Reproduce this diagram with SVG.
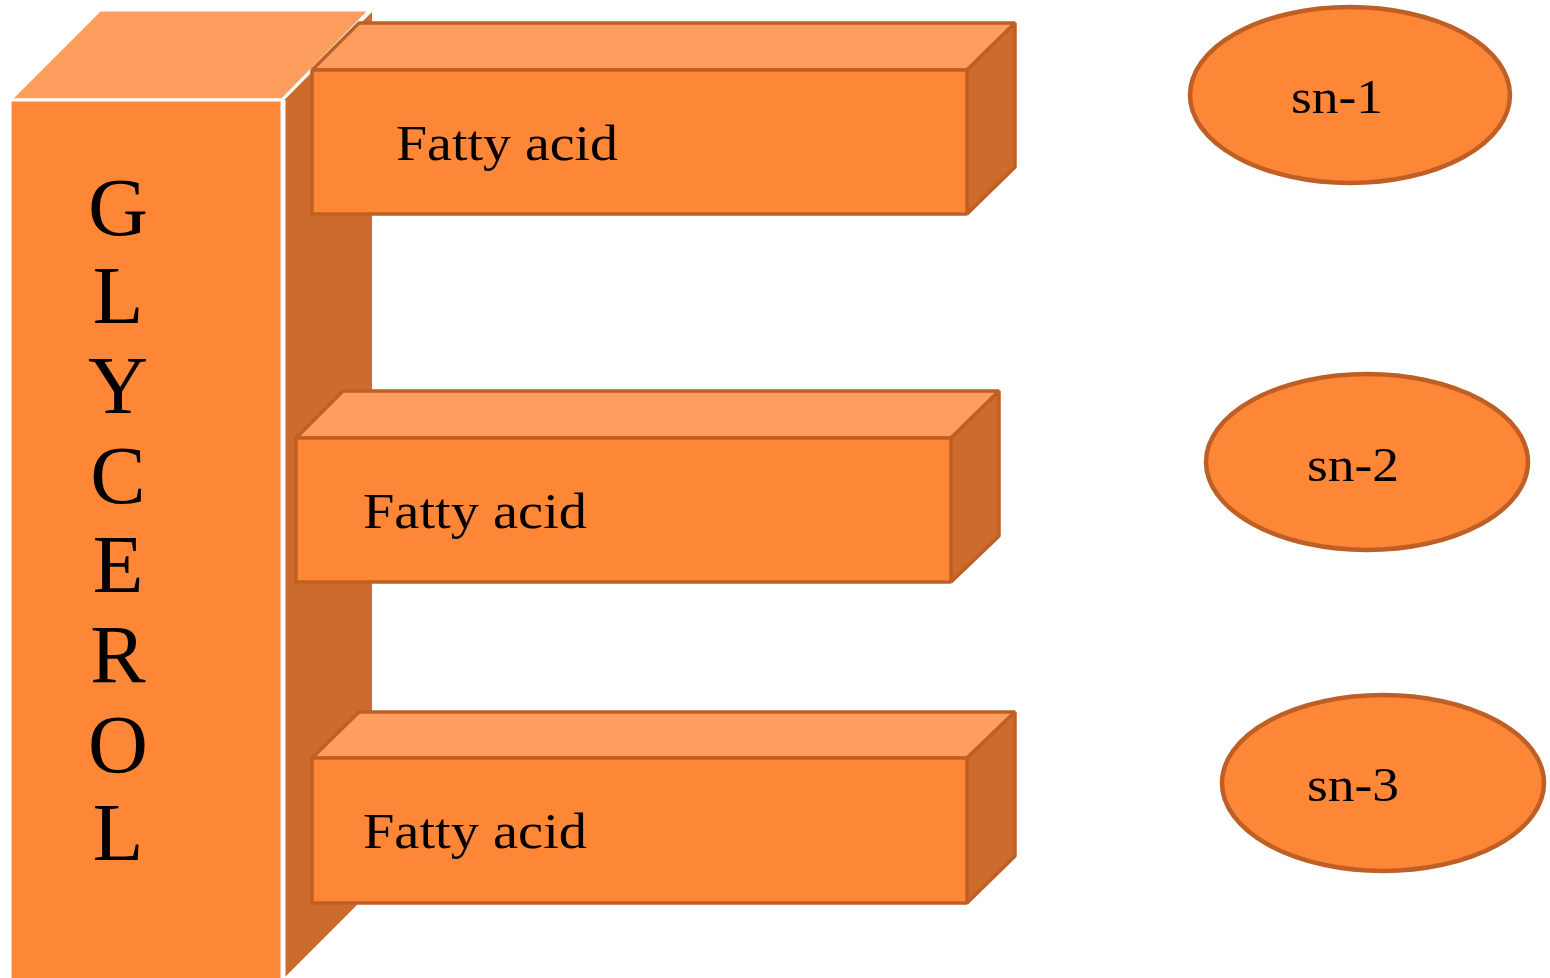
<svg xmlns="http://www.w3.org/2000/svg" width="1550" height="978" viewBox="0 0 1550 978">
<style>
.front{fill:#FD8637}
.top{fill:#FD9E5F}
.side{fill:#CC6B2C}
.fa{stroke:#BE6026;stroke-width:3.5;stroke-linejoin:bevel}
.gl{stroke:#FFFFFF;stroke-width:3}
.ell{fill:#FD8637;stroke:#BE6026;stroke-width:4.5}
.t{font-family:"Liberation Serif","Times New Roman",serif;fill:#000}
.fat{font-size:51px}
.gt{font-size:83px;text-anchor:middle}
.sn{font-size:48px}
</style>
<rect width="1550" height="978" fill="#FFFFFF"/>
<g id="glycerol">
<polygon class="side" points="284,100 372,12 372,890 284,978"/>
<polygon class="top gl" points="10,100 100,10 370,10 282,100"/>
<rect class="front gl" x="10" y="100" width="272" height="880"/>
<line class="gl" x1="284" y1="100" x2="284" y2="978"/>
<g class="t gt">
<text x="118" y="235">G</text>
<text x="118" y="323">L</text>
<text x="118" y="413">Y</text>
<text x="118" y="503">C</text>
<text x="118" y="592">E</text>
<text x="118" y="682">R</text>
<text x="118" y="772">O</text>
<text x="118" y="860">L</text>
</g>
</g>
<g id="fatty-acid-1">
<polygon class="top fa" points="312,70 359,23 1015,23 967,70"/>
<polygon class="side fa" points="967,70 1015,23 1015,167 967,214"/>
<rect class="front fa" x="312" y="70" width="655" height="144"/>
<text class="t fat" x="396" y="160" textLength="222" lengthAdjust="spacingAndGlyphs">Fatty acid</text>
</g>
<g id="fatty-acid-2">
<polygon class="top fa" points="296,438 343,391 999,391 951,438"/>
<polygon class="side fa" points="951,438 999,391 999,536 951,582"/>
<rect class="front fa" x="296" y="438" width="655" height="144"/>
<text class="t fat" x="363" y="528" textLength="224" lengthAdjust="spacingAndGlyphs">Fatty acid</text>
</g>
<g id="fatty-acid-3">
<polygon class="top fa" points="312,758 359,712 1015,712 967,758"/>
<polygon class="side fa" points="967,758 1015,712 1015,856 967,903"/>
<rect class="front fa" x="312" y="758" width="655" height="145"/>
<text class="t fat" x="363" y="848" textLength="224" lengthAdjust="spacingAndGlyphs">Fatty acid</text>
</g>
<g id="sn-1">
<ellipse class="ell" cx="1350" cy="95" rx="160" ry="88"/>
<text class="t sn" x="1291" y="113" textLength="92" lengthAdjust="spacingAndGlyphs">sn-1</text>
</g>
<g id="sn-2">
<ellipse class="ell" cx="1367" cy="462" rx="161" ry="88"/>
<text class="t sn" x="1307" y="481" textLength="92" lengthAdjust="spacingAndGlyphs">sn-2</text>
</g>
<g id="sn-3">
<ellipse class="ell" cx="1383" cy="783" rx="161" ry="88"/>
<text class="t sn" x="1307" y="801" textLength="92" lengthAdjust="spacingAndGlyphs">sn-3</text>
</g>
<g id="connectors"/>
</svg>
